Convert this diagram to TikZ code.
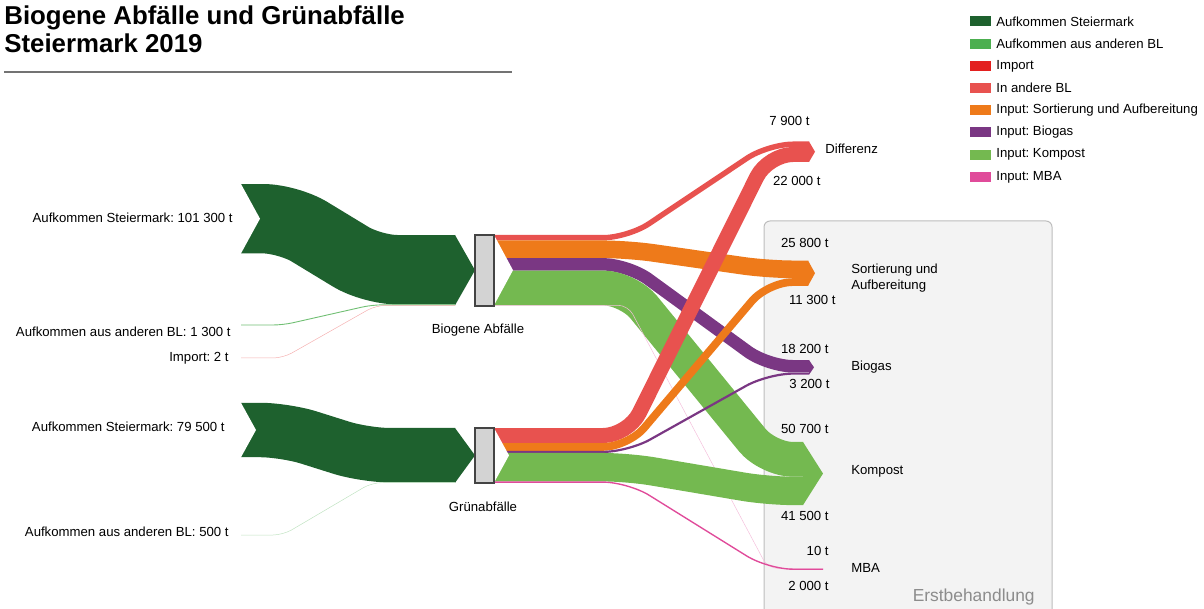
\documentclass[tikz,border=0pt]{standalone}
\usepackage{fontspec}
\setmainfont{Liberation Sans}
\usepackage{tikz}
\frenchspacing

\definecolor{stmk}{HTML}{1E612E}
\definecolor{andbl}{HTML}{4CAF50}
\definecolor{importred}{HTML}{E3201F}
\definecolor{andere}{HTML}{E8524F}
\definecolor{sort}{HTML}{EE7A1A}
\definecolor{biogas}{HTML}{7A3783}
\definecolor{kompost}{HTML}{74B950}
\definecolor{mba}{HTML}{E04B9A}
\definecolor{boxbg}{HTML}{F3F3F3}
\definecolor{boxline}{HTML}{BDBDBD}
\definecolor{barfill}{HTML}{D3D3D3}
\definecolor{barline}{HTML}{444444}

\tikzset{
  flow/.style={line width=#1*0.137mm, rounded corners=5mm},
  lbl/.style={font=\fontsize{7.5}{9}\selectfont, inner sep=0pt},
  bar/.style={draw=barline, fill=barfill, line width=0.25mm, minimum width=3.8mm, inner sep=0pt}
}

\begin{document}
\begin{tikzpicture}[x=0.2mm, y=-0.2mm]
\useasboundingbox (0,0) rectangle (1204,609);

\node[font=\fontsize{14.7}{17}\selectfont\bfseries, anchor=base west, inner sep=0pt] (title1) at (4,25) {Biogene Abfälle und Grünabfälle};
\node[font=\fontsize{14.7}{17}\selectfont\bfseries, anchor=base west, inner sep=0pt] (title2) at (4,53) {Steiermark 2019};
\draw[black!55, line width=0.3mm] (4,72) -- (512,72);

% Erstbehandlung
\draw[fill=boxbg, draw=boxline, line width=0.2mm, rounded corners=1.2mm] (764,221) rectangle (1052,640);
\node[font=\fontsize{9.9}{12}\selectfont, text=black!45, inner sep=0pt, anchor=east] (erst) at (1035,597) {Erstbehandlung};

% ports
\coordinate (srcB) at (241,218.7);
\coordinate (srcG) at (241,430);
\coordinate (bL1) at (455,269.7);
\coordinate (bL2) at (455,304.85);
\coordinate (bL3) at (455,305.3);
\coordinate (gL1) at (455,455.2);
\coordinate (gL2) at (455,482.6);
\coordinate (bR1) at (494,237.7);
\coordinate (bR2) at (494,249.3);
\coordinate (bR3) at (494,264.35);
\coordinate (bR4) at (494,287.95);
\coordinate (bR5) at (494,305.3);
\coordinate (gR1) at (494,435.55);
\coordinate (gR2) at (494,446.95);
\coordinate (gR3) at (494,451.9);
\coordinate (gR4) at (494,467.2);
\coordinate (gR5) at (494,482.1);
\coordinate (knA) at (628,0);
\coordinate (knB) at (768,0);
\coordinate (difB) at (809,144.2);
\coordinate (difG) at (809,154.45);
\coordinate (sorB) at (808,269.35);
\coordinate (sorG) at (808,282.05);
\coordinate (bgaB) at (809,366.25);
\coordinate (bgaG) at (809,373.6);
\coordinate (kmpB) at (803,459.35);
\coordinate (kmpG) at (803,490.9);
\coordinate (mbaB) at (823,568.5);
\coordinate (mbaG) at (823,569.2);

% Aufkommen -> Biogene Abfaelle / Gruenabfaelle
\draw[flow=101.3, stmk] (srcB) -- ++(47,0) -- ++(84,51) -- (bL1);
\draw[andbl!80, line width=0.18mm, rounded corners=2mm] (241,325) -- (283,325) -- (372,304.85) -- (bL2);
\draw[importred!35, line width=0.1mm, rounded corners=2mm] (241,358) -- (283,358) -- (376,305.3) -- (bL3);
\draw[flow=79.5, stmk] (srcG) -- ++(44,0) -- ++(80,25.2) -- (gL1);
\draw[andbl!35, line width=0.1mm, rounded corners=2mm] (241,535) -- (283,535) -- (372,482.6) -- (gL2);

% Biogene Abfaelle -> Erstbehandlung
\draw[flow=7.9, andere] (bR1) -- (knA |- bR1) -- (knB |- difB) -- (difB);
\draw[flow=25.8, sort] (bR2) -- (knA |- bR2) -- (knB |- sorB) -- (sorB);
\draw[flow=18.2, biogas] (bR3) -- (knA |- bR3) -- (knB |- bgaB) -- (bgaB);
\draw[flow=50.7, kompost] (bR4) -- (knA |- bR4) -- (knB |- kmpB) -- (kmpB);
\draw[mba!35, line width=0.1mm, rounded corners=2mm] (bR5) -- (knA |- bR5) -- (knB |- mbaB) -- (mbaB);

% Gruenabfaelle -> Erstbehandlung
\draw[flow=22, andere] (gR1) -- (knA |- gR1) -- (knB |- difG) -- (difG);
\draw[flow=11.3, sort] (gR2) -- (knA |- gR2) -- (knB |- sorG) -- (sorG);
\draw[flow=3.2, biogas] (gR3) -- (knA |- gR3) -- (knB |- bgaG) -- (bgaG);
\draw[flow=41.5, kompost] (gR4) -- (knA |- gR4) -- (knB |- kmpG) -- (kmpG);
\draw[flow=2, mba] (gR5) -- (knA |- gR5) -- (knB |- mbaG) -- (mbaG);

% notches at the start of the bundles
\fill[white] (241,184) -- (260,218.7) -- (241,253.4) -- cycle;
\fill[white] (241,402.8) -- (256,430) -- (241,457.2) -- cycle;
\fill[white] (494,235) -- (513,270.2) -- (494,305.3) -- cycle;
\fill[white] (494,428) -- (509,455.4) -- (494,482.8) -- cycle;

% makes the arrow heads
\fill[stmk] (455,235) -- (475,270.2) -- (455,305.3) -- cycle;
\fill[stmk] (455,428) -- (475,455.4) -- (455,482.8) -- cycle;
\fill[andere] (809,141.5) -- (815,151.75) -- (809,162) -- cycle;
\fill[sort] (808,260.5) -- (815,273.2) -- (808,285.9) -- cycle;
\fill[biogas] (809,360) -- (814,367.35) -- (809,374.7) -- cycle;
\fill[kompost] (803,442) -- (823,473.55) -- (803,505.1) -- cycle;

\node[bar, minimum height=14.2mm] (bio) at (484.5,270.5) {};
\node[bar, minimum height=11mm] (gru) at (484.5,455.5) {};
\node[lbl] (bioname) at (478,330) {Biogene Abfälle};
\node[lbl] (gruname) at (483,507) {Grünabfälle};

\node[lbl, anchor=east] (inB1) at (233,218) {Aufkommen Steiermark: 101 300 t};
\node[lbl, anchor=east] (inB2) at (231,332) {Aufkommen aus anderen BL: 1 300 t};
\node[lbl, anchor=east] (inB3) at (229,358) {Import: 2 t};
\node[lbl, anchor=east] (inG1) at (225,427) {Aufkommen Steiermark: 79 500 t};
\node[lbl, anchor=east] (inG2) at (229,532) {Aufkommen aus anderen BL: 500 t};

\node[lbl, anchor=west] (difname) at (825,149) {Differenz};
\node[lbl, anchor=east] (difvB) at (810,121) {7 900 t};
\node[lbl, anchor=east] (difvG) at (821,181) {22 000 t};
\node[lbl, anchor=west, align=left] (sorname) at (851,278.5) {Sortierung und\\Aufbereitung};
\node[lbl, anchor=east] (sorvB) at (829,243) {25 800 t};
\node[lbl, anchor=east] (sorvG) at (836,300) {11 300 t};
\node[lbl, anchor=west] (bganame) at (851,367) {Biogas};
\node[lbl, anchor=east] (bgavB) at (829,349) {18 200 t};
\node[lbl, anchor=east] (bgavG) at (830,384) {3 200 t};
\node[lbl, anchor=west] (kmpname) at (851,471) {Kompost};
\node[lbl, anchor=east] (kmpvB) at (829,429) {50 700 t};
\node[lbl, anchor=east] (kmpvG) at (829,516) {41 500 t};
\node[lbl, anchor=west] (mbaname) at (851,568) {MBA};
\node[lbl, anchor=east] (mbavB) at (829,551) {10 t};
\node[lbl, anchor=east] (mbavG) at (829,586) {2 000 t};

% legend
\foreach \c/\t [count=\i from 0] in {stmk/Aufkommen Steiermark, andbl/Aufkommen aus anderen BL, importred/Import, andere/In andere BL, sort/Input: Sortierung und Aufbereitung, biogas/Input: Biogas, kompost/Input: Kompost, mba/Input: MBA}{
  \fill[\c] (970,16.5+22.2*\i) rectangle ++(21,10);
  \node[lbl, anchor=west] (leg\i) at (996,21.5+22.2*\i) {\t};
}
\end{tikzpicture}
\end{document}
